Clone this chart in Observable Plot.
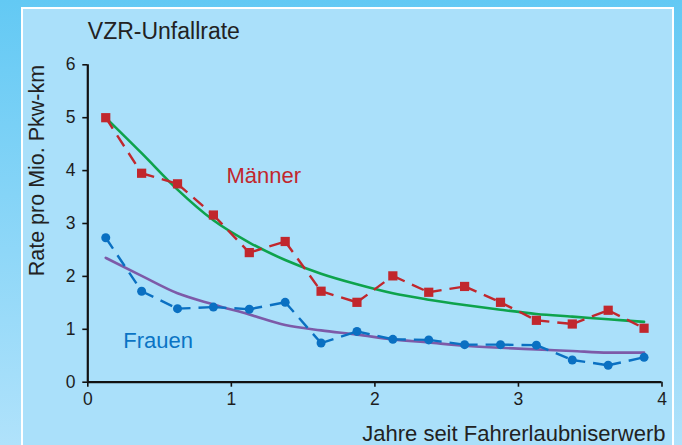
<!DOCTYPE html>
<html><head><meta charset="utf-8">
<script src="https://cdn.jsdelivr.net/npm/d3@7"></script>
<script src="https://cdn.jsdelivr.net/npm/@observablehq/plot@0.6"></script>
<style>
html,body{margin:0;padding:0;width:682px;height:445px;overflow:hidden;}
body{background:linear-gradient(to bottom,#63c9f4 0%,#b0e2fb 100%);position:relative;font-family:"Liberation Sans",Arial,sans-serif;}
#panel{position:absolute;left:20.5px;top:6.5px;width:653.2px;height:470px;box-sizing:border-box;border:2.6px solid #fff;background:#aae0fa;}
#chart{position:absolute;left:0;top:0;}
</style></head><body><div id="panel"></div><div id="chart"></div>
<script>
// Jahre seit Fahrerlaubniserwerb (quarter-year midpoints)
const years = [0.125,0.375,0.625,0.875,1.125,1.375,1.625,1.875,2.125,2.375,2.625,2.875,3.125,3.375,3.625,3.875];
// Observed accident rates
const maenner = [5.0,3.95,3.75,3.16,2.45,2.66,1.72,1.51,2.01,1.70,1.81,1.51,1.17,1.10,1.36,1.02];
const frauen  = [2.73,1.72,1.39,1.42,1.38,1.51,0.74,0.96,0.81,0.80,0.71,0.71,0.70,0.42,0.32,0.47];
// Fitted trend curves
const maennerFit = [5.0,4.33,3.64,3.06,2.64,2.31,2.05,1.85,1.68,1.56,1.46,1.37,1.29,1.24,1.19,1.14];
const frauenFit  = [2.35,2.01,1.68,1.47,1.28,1.08,0.98,0.90,0.81,0.75,0.69,0.65,0.62,0.59,0.56,0.56];
const xTicks = [0,1,2,3,4];
const yTicks = [0,1,2,3,4,5,6];
const title = "VZR-Unfallrate";
const yLabel = "Rate pro Mio. Pkw-km";
const xLabel = "Jahre seit Fahrerlaubniserwerb";
const seriesLabels = [
  {name: "Männer", x: 0.966, y: 3.76, color: "#c1272d"},
  {name: "Frauen", x: 0.247, y: 0.65, color: "#0a74c4"}
];

const pts = (vals) => years.map((x, i) => ({x, y: vals[i]}));
const segs = (vals) => years.slice(0, -1).map((x, i) => ({x1: x, y1: vals[i], x2: years[i + 1], y2: vals[i + 1]}));

const RED = "#c1272d", BLUE = "#0a70c2", GREEN = "#0ea34c", PURPLE = "#7d5aa8";
const FONT = "'Liberation Sans', Arial, Helvetica, sans-serif";

const chart = Plot.plot({
  width: 682, height: 445,
  marginLeft: 87.3, marginRight: 20.5, marginTop: 64.3, marginBottom: 63.3,
  style: {background: "transparent", fontFamily: FONT, color: "#1e1e1e", overflow: "visible"},
  x: {domain: [0, 4]},
  y: {domain: [0, 6]},
  marks: [
    Plot.axisX({ticks: xTicks, tickFormat: "d", tickSize: 5, tickPadding: 5.5, fontSize: 17.5, label: null, strokeWidth: 1.6, stroke: "#111", fill: "#1e1e1e"}),
    Plot.axisY({ticks: yTicks, tickFormat: "d", tickSize: 5, tickPadding: 7.3, fontSize: 17.5, label: null, strokeWidth: 1.6, stroke: "#111", fill: "#1e1e1e"}),
    Plot.ruleY([0], {x1: 0, x2: 4, stroke: "#111", strokeWidth: 2.2}),
    Plot.ruleX([0], {y1: 0, y2: 6, stroke: "#111", strokeWidth: 2.2}),
    Plot.line(pts(maennerFit), {x: "x", y: "y", stroke: GREEN, strokeWidth: 2.6, curve: "monotone-x"}),
    Plot.line(pts(frauenFit), {x: "x", y: "y", stroke: PURPLE, strokeWidth: 2.6, curve: "monotone-x"}),
    Plot.link(segs(maenner), {x1: "x1", y1: "y1", x2: "x2", y2: "y2", stroke: RED, strokeWidth: 2.4, strokeDasharray: "13,8"}),
    Plot.link(segs(frauen), {x1: "x1", y1: "y1", x2: "x2", y2: "y2", stroke: BLUE, strokeWidth: 2.4, strokeDasharray: "13,8"}),
    Plot.dot(pts(maenner), {x: "x", y: "y", symbol: "square", r: 5.2, fill: RED, stroke: "none"}),
    Plot.dot(pts(frauen), {x: "x", y: "y", symbol: "circle", r: 4.5, fill: BLUE, stroke: "none"}),
    Plot.text(seriesLabels, {x: "x", y: "y", text: "name", fill: d => d.color, textAnchor: "start", lineAnchor: "bottom", fontSize: 22}),
    Plot.text([title], {frameAnchor: "top-left", dy: -25.8, textAnchor: "start", lineAnchor: "bottom", fontSize: 23, fill: "#222", style: {letterSpacing: "0.3px"}}),
    Plot.text([yLabel], {frameAnchor: "top-left", dx: -44, dy: 0, rotate: -90, textAnchor: "end", lineAnchor: "bottom", fontSize: 21.5, fill: "#222"}),
    Plot.text([xLabel], {frameAnchor: "bottom-right", dx: 3.5, dy: 58.3, textAnchor: "end", lineAnchor: "bottom", fontSize: 22, fill: "#222"})
  ]
});
document.getElementById("chart").appendChild(chart);
</script>
</body></html>
